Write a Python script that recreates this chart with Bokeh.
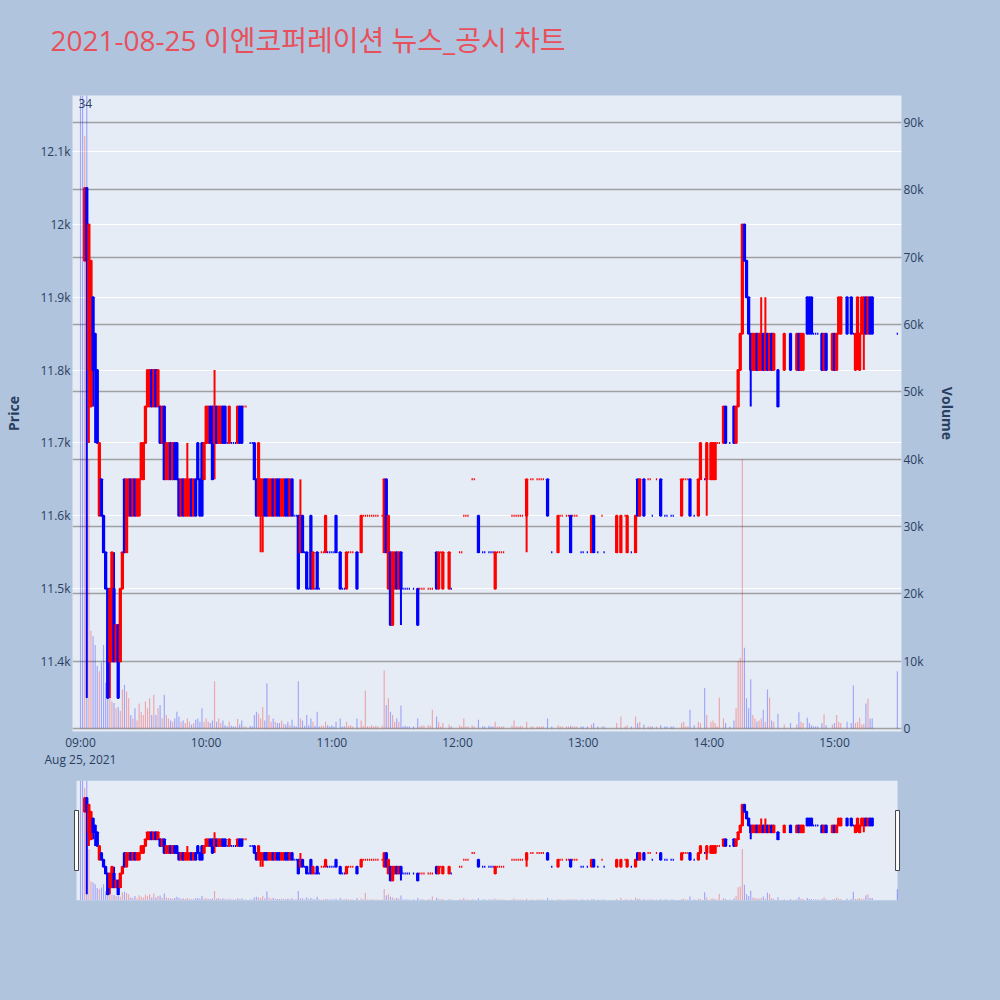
import numpy as np
from bokeh.plotting import figure
from bokeh.models import Range1d, LinearAxis, FixedTicker, Grid, ColumnDataSource, Title
from bokeh.layouts import column
from bokeh.embed import file_html
from bokeh.resources import INLINE
from bokeh.core.properties import value

nan = float("nan")

title_text = "2021-08-25 이엔코퍼레이션 뉴스_공시 차트"
corner_text = "34"
date_text = "Aug 25, 2021"

time_ticks = [0, 60, 120, 180, 240, 300, 360]
time_labels = ["09:00", "10:00", "11:00", "12:00", "13:00", "14:00", "15:00"]
price_ticks = [11400, 11500, 11600, 11700, 11800, 11900, 12000, 12100]
price_labels = ["11.4k", "11.5k", "11.6k", "11.7k", "11.8k", "11.9k", "12k", "12.1k"]
volume_ticks = [0, 10000, 20000, 30000, 40000, 50000, 60000, 70000, 80000, 90000]
volume_labels = ["0", "10k", "20k", "30k", "40k", "50k", "60k", "70k", "80k", "90k"]

# minutes after 09:00
minute = [
    0, 1, 2, 3, 4, 5, 6, 7, 8, 9,
    10, 11, 12, 13, 14, 15, 16, 17, 18, 19,
    20, 21, 22, 23, 24, 25, 26, 27, 28, 29,
    30, 31, 32, 33, 34, 35, 36, 37, 38, 39,
    40, 41, 42, 43, 44, 45, 46, 47, 48, 49,
    50, 51, 52, 53, 54, 55, 56, 57, 58, 59,
    60, 61, 62, 63, 64, 65, 66, 67, 68, 69,
    70, 71, 72, 73, 74, 75, 76, 77, 78, 79,
    81, 82, 83, 84, 85, 86, 87, 88, 89, 90,
    91, 92, 93, 94, 95, 96, 97, 98, 99, 100,
    101, 102, 103, 104, 105, 106, 107, 108, 109, 110,
    111, 112, 113, 114, 115, 116, 117, 118, 119, 120,
    121, 122,
    124, 125, 126, 127, 128, 129, 130, 132, 134, 135, 136, 137, 138, 139, 140, 141, 142, 144,
    145, 146, 147, 148, 149, 150, 151, 152, 153, 154, 155, 156, 157, 159, 161, 162, 163, 164,
    166, 167, 168, 170, 171, 172, 173, 176, 177,
    181, 182, 183, 184, 185, 187, 188, 190, 192, 193,
    195, 196, 197, 198, 199, 200, 201, 202, 206, 207,
    208, 209, 210, 211, 213, 215, 216, 218, 219, 220,
    221, 223, 225, 228, 229, 230, 232, 233, 234, 235,
    236, 237, 239, 240, 242, 244, 245, 247, 249, 250,
    256, 258, 260, 261, 263, 265, 266, 267, 269, 271,
    272, 273, 275, 277, 279, 280, 282, 283, 287, 288,
    289, 290, 291, 293, 295, 296, 298, 299,
    301, 302, 303, 304, 305, 307, 308, 310, 312, 313,
    314, 315, 316, 317, 318, 319, 320, 321, 322, 323,
    324, 325, 326, 327, 328, 329, 330, 331, 333, 336,
    339, 342, 343, 344, 345, 347, 348, 349, 350, 351,
    352, 354, 355, 356, 359, 360, 361, 362, 363, 366,
    368, 369, 370, 371, 372, 373, 374, 375, 376, 377,
    378, 390,
]

open_ = [
    nan, nan, 11950, 12050, 11800, 11750, 11900, 11850, 11800, 11600,
    11650, 11600, 11550, 11500, 11400, 11400, 11500, 11400, 11450, 11400,
    11500, 11650, 11550, 11600, 11650, 11600, 11650, 11600, 11600, 11650,
    11650, 11700, 11750, 11750, 11800, 11750, 11800, 11750, 11750, 11700,
    11750, 11650, 11650, 11700, 11650, 11700, 11700, 11650, 11600, 11650,
    11600, 11600, 11600, 11650, 11600, 11650, 11700, 11650, 11700, 11650,
    11700, 11700, 11750, 11750, 11700, 11750, 11700, 11700, 11750, 11750,
    11700, 11700, 11700, 11700, 11700, 11700, 11750, 11750, 11750, 11750,
    11700, 11700, 11700, 11650, 11600, 11600, 11600, 11650, 11650, 11600,
    11600, 11650, 11600, 11650, 11650, 11600, 11600, 11650, 11650, 11600,
    11650, 11600, 11600, 11600, 11550, 11600, 11550, 11550, 11500, 11600,
    11500, 11500, 11550, 11500, 11550, 11550, 11550, 11550, 11550, 11550,
    11550, 11600,
    11550, 11500, 11500, 11500, 11550, 11550, 11550, 11550, 11550, 11600, 11600, 11600, 11600, 11600, 11600, 11600, 11600, 11600,
    11550, 11650, 11500, 11550, 11450, 11500, 11550, 11500, 11550, 11500, 11500, 11500, 11500, 11500, 11500, 11500, 11500, 11500,
    11500, 11500, 11500, 11550, 11500, 11550, 11500, 11500, 11500,
    11550, 11550, 11600, 11600, 11600, 11650, 11650, 11600, 11550, 11550,
    11550, 11550, 11550, 11500, 11550, 11550, 11550, 11550, 11600, 11600,
    11600, 11600, 11600, 11600, 11600, 11650, 11650, 11650, 11650, 11650,
    11650, 11650, 11550, 11550, 11600, 11600, 11600, 11600, 11600, 11600,
    11600, 11600, 11550, 11550, 11550, 11550, 11600, 11550, 11600, 11550,
    11550, 11550, 11600, 11550, 11550, 11550, 11650, 11600, 11650, 11650,
    11650, 11600, 11650, 11650, 11600, 11600, 11600, 11600, 11600, 11650,
    11650, 11650, 11650, 11600, 11600, 11650, 11650, 11650,
    11650, 11650, 11650, 11700, 11700, 11700, 11750, 11700, 11750, 11700,
    11750, 11800, 11850, 12000, 11950, 11900, 11850, 11800, 11800, 11850,
    11800, 11800, 11850, 11800, 11850, 11800, 11850, 11800, 11800, 11800,
    11850, 11800, 11850, 11800, 11800, 11900, 11900, 11900, 11850, 11850,
    11850, 11850, 11800, 11850, 11800, 11850, 11800, 11850, 11850, 11900,
    11900, 11850, 11800, 11850, 11800, 11850, 11850, 11900, 11850, 11900,
    11900, 11850,
]

high = [
    nan, nan, 12050, 12050, 12000, 11950, 11900, 11850, 11800, 11700,
    11650, 11600, 11550, 11500, 11500, 11550, 11550, 11450, 11450, 11500,
    11550, 11650, 11650, 11650, 11650, 11650, 11650, 11650, 11650, 11700,
    11700, 11750, 11800, 11800, 11800, 11800, 11800, 11800, 11750, 11750,
    11750, 11700, 11700, 11700, 11700, 11700, 11700, 11650, 11650, 11650,
    11650, 11700, 11650, 11650, 11650, 11650, 11700, 11650, 11700, 11700,
    11750, 11750, 11750, 11750, 11800, 11750, 11750, 11750, 11750, 11750,
    11700, 11750, 11700, 11700, 11700, 11750, 11750, 11750, 11750, 11750,
    11700, 11700, 11700, 11650, 11700, 11650, 11650, 11650, 11650, 11650,
    11650, 11650, 11650, 11650, 11650, 11650, 11650, 11650, 11650, 11650,
    11650, 11600, 11600, 11600, 11650, 11600, 11550, 11550, 11500, 11600,
    11550, 11500, 11550, 11500, 11550, 11550, 11600, 11550, 11550, 11550,
    11550, 11600,
    11550, 11500, 11500, 11550, 11550, 11550, 11550, 11550, 11600, 11600, 11600, 11600, 11600, 11600, 11600, 11600, 11600, 11600,
    11650, 11650, 11600, 11550, 11550, 11550, 11550, 11550, 11550, 11500, 11500, 11500, 11500, 11500, 11500, 11500, 11500, 11500,
    11500, 11500, 11500, 11550, 11550, 11550, 11550, 11550, 11500,
    11550, 11550, 11600, 11600, 11600, 11650, 11650, 11600, 11550, 11550,
    11550, 11550, 11550, 11550, 11550, 11550, 11550, 11550, 11600, 11600,
    11600, 11600, 11600, 11600, 11650, 11650, 11650, 11650, 11650, 11650,
    11650, 11650, 11550, 11600, 11600, 11600, 11600, 11600, 11600, 11600,
    11600, 11600, 11550, 11550, 11550, 11600, 11600, 11550, 11600, 11550,
    11600, 11600, 11600, 11600, 11550, 11600, 11650, 11650, 11650, 11650,
    11650, 11600, 11650, 11650, 11600, 11600, 11600, 11600, 11650, 11650,
    11650, 11650, 11650, 11600, 11650, 11700, 11650, 11700,
    11700, 11700, 11700, 11700, 11700, 11750, 11750, 11700, 11750, 11750,
    11800, 11850, 12000, 12000, 11950, 11900, 11850, 11850, 11850, 11850,
    11850, 11900, 11850, 11900, 11850, 11850, 11850, 11850, 11800, 11850,
    11850, 11850, 11850, 11850, 11850, 11900, 11900, 11900, 11850, 11850,
    11850, 11850, 11850, 11850, 11850, 11850, 11850, 11900, 11900, 11900,
    11900, 11850, 11850, 11900, 11850, 11900, 11900, 11900, 11900, 11900,
    11900, 11850,
]

low = [
    nan, nan, 11950, 11350, 11700, 11750, 11750, 11700, 11700, 11600,
    11600, 11550, 11500, 11350, 11350, 11400, 11400, 11400, 11350, 11400,
    11500, 11550, 11550, 11600, 11600, 11600, 11600, 11600, 11600, 11650,
    11650, 11700, 11750, 11750, 11750, 11750, 11750, 11750, 11700, 11700,
    11650, 11650, 11650, 11650, 11650, 11650, 11650, 11600, 11600, 11600,
    11600, 11600, 11600, 11600, 11600, 11600, 11650, 11600, 11600, 11650,
    11700, 11700, 11700, 11650, 11650, 11700, 11700, 11700, 11700, 11700,
    11700, 11700, 11700, 11700, 11700, 11700, 11700, 11700, 11750, 11750,
    11700, 11700, 11650, 11600, 11600, 11550, 11550, 11600, 11600, 11600,
    11600, 11600, 11600, 11600, 11600, 11600, 11600, 11600, 11600, 11600,
    11600, 11600, 11600, 11500, 11550, 11550, 11550, 11500, 11500, 11500,
    11500, 11500, 11500, 11500, 11550, 11550, 11550, 11550, 11550, 11550,
    11550, 11550,
    11500, 11500, 11500, 11500, 11550, 11550, 11550, 11500, 11550, 11600, 11600, 11600, 11600, 11600, 11600, 11600, 11600, 11600,
    11550, 11550, 11500, 11450, 11450, 11500, 11500, 11500, 11450, 11500, 11500, 11500, 11500, 11500, 11450, 11500, 11500, 11500,
    11500, 11500, 11500, 11500, 11500, 11550, 11500, 11500, 11500,
    11550, 11550, 11600, 11600, 11600, 11650, 11650, 11550, 11550, 11550,
    11550, 11550, 11550, 11500, 11550, 11550, 11550, 11550, 11600, 11600,
    11600, 11600, 11600, 11600, 11550, 11650, 11650, 11650, 11650, 11650,
    11650, 11600, 11550, 11550, 11600, 11600, 11600, 11600, 11550, 11600,
    11600, 11600, 11550, 11550, 11550, 11550, 11550, 11550, 11600, 11550,
    11550, 11550, 11600, 11550, 11550, 11550, 11600, 11600, 11600, 11650,
    11650, 11600, 11650, 11600, 11600, 11600, 11600, 11600, 11600, 11650,
    11650, 11650, 11600, 11600, 11600, 11650, 11650, 11600,
    11650, 11650, 11650, 11700, 11700, 11700, 11700, 11700, 11700, 11700,
    11750, 11800, 11850, 11950, 11900, 11850, 11750, 11800, 11800, 11800,
    11800, 11800, 11800, 11800, 11800, 11800, 11800, 11800, 11750, 11800,
    11800, 11800, 11800, 11800, 11800, 11850, 11850, 11850, 11850, 11850,
    11850, 11800, 11800, 11800, 11800, 11800, 11800, 11850, 11850, 11850,
    11850, 11850, 11800, 11800, 11800, 11850, 11800, 11850, 11850, 11850,
    11850, 11850,
]

close = [
    nan, nan, 12050, 11950, 12000, 11950, 11800, 11800, 11700, 11700,
    11600, 11550, 11500, 11350, 11500, 11550, 11400, 11450, 11350, 11500,
    11550, 11550, 11650, 11650, 11600, 11650, 11600, 11650, 11650, 11700,
    11700, 11750, 11800, 11800, 11750, 11800, 11750, 11800, 11700, 11750,
    11650, 11700, 11700, 11650, 11700, 11650, 11650, 11600, 11650, 11600,
    11650, 11650, 11650, 11600, 11650, 11600, 11650, 11600, 11600, 11700,
    11750, 11750, 11700, 11650, 11750, 11700, 11750, 11750, 11700, 11700,
    11700, 11750, 11700, 11700, 11700, 11750, 11700, 11700, 11750, 11750,
    11700, 11700, 11650, 11600, 11700, 11650, 11650, 11600, 11600, 11650,
    11650, 11600, 11650, 11600, 11600, 11650, 11650, 11600, 11600, 11650,
    11600, 11600, 11600, 11500, 11600, 11550, 11550, 11500, 11500, 11500,
    11550, 11500, 11500, 11500, 11550, 11550, 11600, 11550, 11550, 11550,
    11550, 11550,
    11500, 11500, 11500, 11550, 11550, 11550, 11550, 11500, 11600, 11600, 11600, 11600, 11600, 11600, 11600, 11600, 11600, 11600,
    11650, 11550, 11600, 11450, 11550, 11550, 11500, 11550, 11500, 11500, 11500, 11500, 11500, 11500, 11450, 11500, 11500, 11500,
    11500, 11500, 11500, 11500, 11550, 11550, 11550, 11550, 11500,
    11550, 11550, 11600, 11600, 11600, 11650, 11650, 11550, 11550, 11550,
    11550, 11550, 11550, 11550, 11550, 11550, 11550, 11550, 11600, 11600,
    11600, 11600, 11600, 11600, 11650, 11650, 11650, 11650, 11650, 11650,
    11650, 11600, 11550, 11600, 11600, 11600, 11600, 11600, 11550, 11600,
    11600, 11600, 11550, 11550, 11550, 11600, 11550, 11550, 11600, 11550,
    11600, 11600, 11600, 11600, 11550, 11600, 11600, 11650, 11600, 11650,
    11650, 11600, 11650, 11600, 11600, 11600, 11600, 11600, 11650, 11650,
    11650, 11650, 11600, 11600, 11650, 11700, 11650, 11700,
    11700, 11700, 11700, 11700, 11700, 11750, 11700, 11700, 11700, 11750,
    11800, 11850, 12000, 11950, 11900, 11850, 11800, 11850, 11850, 11800,
    11850, 11850, 11800, 11850, 11800, 11850, 11800, 11850, 11750, 11850,
    11800, 11850, 11800, 11850, 11850, 11850, 11850, 11850, 11850, 11850,
    11850, 11800, 11850, 11800, 11850, 11800, 11850, 11900, 11900, 11850,
    11850, 11850, 11850, 11900, 11850, 11900, 11900, 11850, 11900, 11850,
    11850, 11850,
]

volume = [
    140000, 115000, 88000, 120000, 40000, 14500, 13700, 12400, 9300, 8500,
    9800, 12400, 6800, 5500, 5300, 4000, 3800, 3000, 3200, 2600,
    5800, 6500, 5500, 4500, 2000, 1500, 3000, 1200, 3700, 2500,
    2000, 4000, 3000, 4500, 2000, 5000, 2000, 3000, 3500, 1500,
    5000, 2000, 1500, 1200, 1000, 1500, 2500, 1800, 1000, 1200,
    800, 1500, 1000, 600, 800, 1300, 1500, 1000, 3000, 1000,
    1500, 1000, 800, 1200, 7000, 1000, 1500, 800, 1200, 500,
    300, 1000, 400, 300, 300, 1400, 600, 1200, 300, 300,
    400, 300, 2000, 2500, 2200, 1500, 3200, 1200, 6700, 2000,
    1000, 1500, 1000, 800, 800, 1200, 700, 600, 1000, 500,
    1300, 400, 300, 7000, 1500, 1200, 400, 2000, 500, 1500,
    1000, 400, 2500, 300, 400, 400, 1000, 500, 300, 500,
    300, 1000,
    1500, 300, 300, 1000, 400, 500, 300, 1500, 1200, 400, 5600, 300, 300, 500, 300, 400, 300, 400,
    8600, 3500, 4500, 2500, 2000, 1000, 1500, 1000, 3400, 300, 400, 300, 300, 300, 1500, 300, 500, 400,
    500, 400, 2800, 1800, 1000, 300, 800, 600, 300,
    500, 300, 1500, 300, 300, 500, 300, 1300, 300, 300,
    400, 300, 300, 1000, 300, 300, 300, 300, 400, 1200,
    300, 300, 400, 300, 1000, 300, 300, 300, 300, 300,
    300, 1500, 300, 500, 300, 300, 300, 300, 400, 300,
    300, 300, 300, 300, 300, 600, 800, 300, 300, 300,
    800, 1800, 300, 500, 300, 1800, 800, 1000, 600, 300,
    300, 300, 300, 500, 300, 300, 300, 300, 800, 1000,
    300, 300, 2800, 500, 1000, 800, 6000, 2000,
    1000, 1200, 800, 300, 4600, 1500, 800, 300, 1200, 3000,
    10000, 10500, 40000, 12000, 4500, 3000, 7300, 2000, 1500, 1000,
    1200, 1500, 2800, 1000, 5800, 4600, 1200, 1000, 2200, 600,
    800, 600, 2400, 1000, 800, 1600, 800, 500, 300, 300,
    300, 800, 2100, 500, 600, 800, 2000, 1000, 800, 1000,
    800, 6400, 800, 1000, 1600, 600, 700, 3700, 4400, 1500,
    1500, 8500,
]

n = len(minute)
assert all(len(a) == n for a in (open_, high, low, close, volume)), [len(a) for a in (minute, open_, high, low, close, volume)]

m = np.array(minute, dtype=float)
o = np.array(open_, dtype=float)
h = np.array(high, dtype=float)
l = np.array(low, dtype=float)
c = np.array(close, dtype=float)
v = np.array(volume, dtype=float)

# direction rule like plotly: flat candles compare with previous close
RED, BLUE = "#FF0000", "#0000FF"
up = []
prev_c, prev_up = None, False
for oi, ci in zip(o, c):
    if np.isnan(ci):
        u = False
    elif ci > oi:
        u = True
    elif ci < oi:
        u = False
    elif prev_c is not None and ci > prev_c:
        u = True
    elif prev_c is not None and ci < prev_c:
        u = False
    else:
        u = prev_up
    up.append(u)
    if not np.isnan(ci):
        prev_c, prev_up = ci, u
colors = [RED if u else BLUE for u in up]

src = ColumnDataSource(dict(m=m, h=h, l=l, v=v, top=np.fmax(o, c), bot=np.fmin(o, c), col=colors))

PLOT_BG = "#E5ECF6"
PAPER_BG = "#B0C4DE"
TXT = "#2a3f5f"
TITLE_COLOR = "#E8505B"

PX_PER_MIN = 754 / 360.0
X0_PAGE = 80.0  # page x of 09:00
FL, FR = 72, 901  # frame left/right (page px), shared by all stacked figures


def xr(left_px, right_px):
    return Range1d((left_px - X0_PAGE) / PX_PER_MIN, (right_px - X0_PAGE) / PX_PER_MIN)


P_LO, P_HI = 11303.9, 12176.9
V_LO, V_HI = -446.0, 94010.0
W = 980


def style(fig, bg):
    fig.background_fill_color = bg
    fig.border_fill_color = PAPER_BG
    fig.outline_line_color = None


def draw(fig):
    fig.vbar(x="m", top="v", bottom=0, width=0.55, y_range_name="vol",
             fill_color="col", fill_alpha=0.3, line_color=None, source=src)
    fig.segment(x0="m", y0="l", x1="m", y1="h", line_color="col", line_width=2, source=src)
    fig.vbar(x="m", top="top", bottom="bot", width=0.6, fill_color="col",
             line_color="col", line_width=2, source=src)


# ---- title band (page y 0..95), title in its "above" panel
T_FRAME_TOP = 60
t = figure(width=W, height=95, x_range=Range1d(0, 1), y_range=Range1d(0, 1),
           x_axis_type=None, y_axis_type=None, output_backend="svg", toolbar_location=None,
           min_border_left=FL, min_border_right=W - FR, min_border_top=T_FRAME_TOP, min_border_bottom=0)
style(t, PAPER_BG)
t.add_layout(Title(text=title_text, align="left", offset=50 - FL, standoff=4,
                   vertical_align="bottom", text_font="Open Sans, Noto Sans CJK KR",
                   text_font_size="28px", text_font_style="normal", text_color=TITLE_COLOR), "above")

# ---- main chart (frame page x 72..901, y 95..731)
PB = 44
p = figure(width=W, height=636 + PB, x_range=xr(FL, FR), y_range=Range1d(P_LO, P_HI),
           output_backend="svg", toolbar_location=None,
           min_border_left=FL, min_border_right=W - FR, min_border_top=0, min_border_bottom=PB)
style(p, PLOT_BG)
p.extra_y_ranges = {"vol": Range1d(V_LO, V_HI), "px": Range1d(731, 95)}
p.extra_x_ranges = {"px": Range1d(FL, FR)}

p.xgrid.visible = False
p.ygrid.ticker = FixedTicker(ticks=price_ticks)
p.ygrid.grid_line_color = "white"
p.ygrid.grid_line_width = 1
vgrid = Grid(dimension=1, ticker=FixedTicker(ticks=volume_ticks), y_range_name="vol",
             grid_line_color="#a0a0a0", grid_line_width=1.3)
p.add_layout(vgrid)

xlab = dict(zip(time_ticks, time_labels))
xlab[time_ticks[0]] = time_labels[0] + "\n" + date_text
p.xaxis.ticker = FixedTicker(ticks=time_ticks)
p.xaxis.major_label_overrides = xlab
p.xaxis.major_label_standoff = 2
p.xaxis.major_label_text_line_height = 1.0

p.yaxis.ticker = FixedTicker(ticks=price_ticks)
p.yaxis.major_label_overrides = dict(zip(price_ticks, price_labels))
p.yaxis.axis_label = "Price"
p.yaxis.major_label_standoff = 2
p.yaxis.axis_label_standoff = 14

vol_axis = LinearAxis(y_range_name="vol", ticker=FixedTicker(ticks=volume_ticks),
                      major_label_overrides=dict(zip(volume_ticks, volume_labels)),
                      axis_label="Volume")
p.add_layout(vol_axis, "right")
vol_axis.major_label_standoff = 2
vol_axis.axis_label_standoff = 11

for ax in (p.xaxis[0], p.yaxis[0], vol_axis):
    ax.axis_line_color = None
    ax.major_tick_line_color = None
    ax.minor_tick_line_color = None
    ax.major_tick_in = 0
    ax.major_tick_out = 0
    ax.minor_tick_in = 0
    ax.minor_tick_out = 0
    ax.major_label_text_color = TXT
    ax.major_label_text_font = "Open Sans"
    ax.major_label_text_font_size = "12px"
    ax.axis_label_text_color = TXT
    ax.axis_label_text_font = "Open Sans"
    ax.axis_label_text_font_size = "14px"
    ax.axis_label_text_font_style = "bold"

draw(p)
p.text(x=[78], y=[98], text=[corner_text], x_range_name="px", y_range_name="px",
       text_font=value("Open Sans"), text_font_size="12px", text_color=TXT,
       text_align="left", text_baseline="top")

# ---- range-slider preview (frame page y 780..900)
S_TOP = 780 - (95 + 636 + PB)
SH = 215
s = figure(width=W, height=SH, x_range=xr(FL, FR), y_range=Range1d(P_LO, P_HI),
           x_axis_type=None, y_axis_type=None, output_backend="svg", toolbar_location=None,
           min_border_left=FL, min_border_right=W - FR, min_border_top=S_TOP,
           min_border_bottom=SH - S_TOP - 120)
style(s, PAPER_BG)
s.extra_y_ranges = {"vol": Range1d(V_LO, V_HI)}
lo_edge = m[0] - 1.9
hi_edge = m[-1] + 0.1
s.quad(left=[lo_edge], right=[hi_edge], bottom=[P_LO], top=[P_HI], fill_color=PLOT_BG, line_color=None)
draw(s)
mid = (P_LO + P_HI) / 2
s.rect(x=[lo_edge, hi_edge], y=[mid, mid], width=4, width_units="screen",
       height=(P_HI - P_LO) / 2, fill_color="white", line_color="#444444", line_width=1)

layout = column(t, p, s, spacing=0)
html = file_html(layout, INLINE, title="chart")
html = html.replace("<head>", "<head><style>html,body{margin:0;padding:0;background:#B0C4DE;}</style>", 1)
open("out.html", "w").write(html)
